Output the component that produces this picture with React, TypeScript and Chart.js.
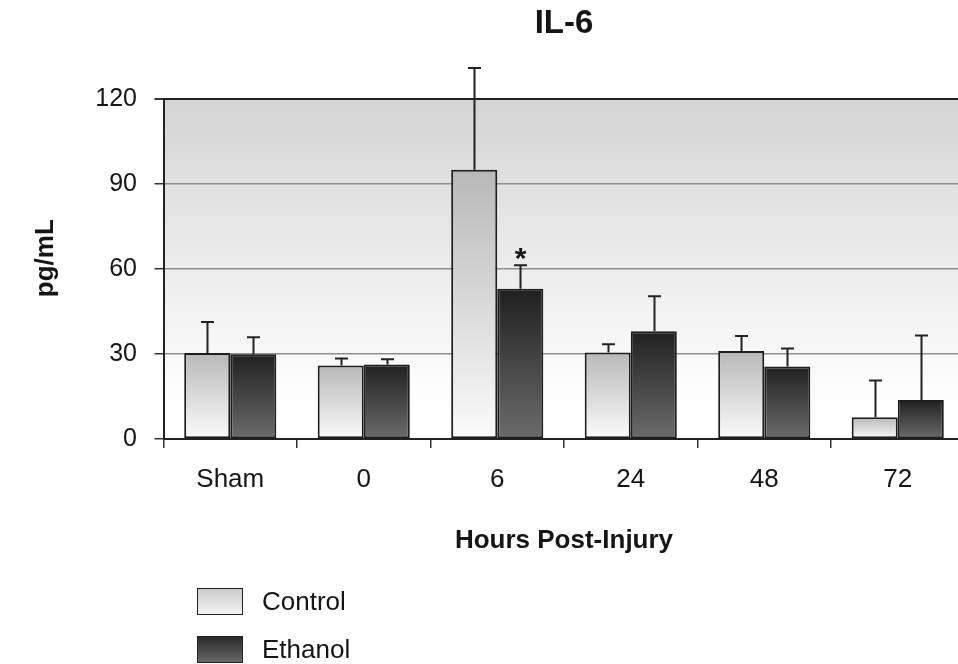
import React, { useEffect, useRef } from 'react';
import { Chart, registerables } from 'chart.js';

Chart.register(...registerables);

const categories = ['Sham', '0', '6', '24', '48', '72'];
const controlValues = [30.4, 26.0, 95.1, 30.6, 31.1, 7.7];
const controlErrors = [10.9, 2.4, 36.0, 2.9, 5.3, 13.0];
const ethanolValues = [29.9, 26.3, 53.1, 38.1, 25.6, 13.8];
const ethanolErrors = [6.0, 1.9, 8.3, 12.3, 6.4, 22.8];
const ethanolSignificant = [false, false, true, false, false, false];
const yTicks = [0, 30, 60, 90, 120];
const seriesNames = ['Control', 'Ethanol'];

const FONT = '"Liberation Sans", Arial, Helvetica, sans-serif';
const INK = '#151515';

function barGradient(top: string, bottom: string) {
  return (ctx: any) => {
    const chart = ctx.chart;
    const area = chart.chartArea;
    if (!area || ctx.type !== 'data') return bottom;
    const y = chart.scales.y;
    const v = ctx.raw as number;
    const yTop = y.getPixelForValue(v);
    const yBase = y.getPixelForValue(0);
    if (!isFinite(yTop) || !isFinite(yBase) || yBase - yTop < 1) return bottom;
    const g = chart.ctx.createLinearGradient(0, yTop, 0, yBase);
    g.addColorStop(0, top);
    g.addColorStop(1, bottom);
    return g;
  };
}

const plotBackground = {
  id: 'plotBackground',
  beforeDraw(chart: any) {
    const { ctx, chartArea: a } = chart;
    if (!a) return;
    const g = ctx.createLinearGradient(0, a.top, 0, a.bottom);
    g.addColorStop(0, '#d4d4d4');
    g.addColorStop(0.55, '#efefef');
    g.addColorStop(0.9, '#ffffff');
    g.addColorStop(1, '#ffffff');
    ctx.save();
    ctx.fillStyle = g;
    ctx.fillRect(a.left, a.top, a.right - a.left, a.bottom - a.top);
    ctx.restore();
  },
};

const errorBars = {
  id: 'errorBars',
  afterDatasetsDraw(chart: any) {
    const { ctx } = chart;
    const y = chart.scales.y;
    const errs = [controlErrors, ethanolErrors];
    const sig = [null, ethanolSignificant];
    ctx.save();
    ctx.strokeStyle = '#222';
    ctx.lineWidth = 2;
    chart.data.datasets.forEach((ds: any, i: number) => {
      const meta = chart.getDatasetMeta(i);
      meta.data.forEach((bar: any, j: number) => {
        const v = ds.data[j];
        const top = y.getPixelForValue(v + errs[i][j]);
        const x = Math.round(bar.x) + 0.5;
        ctx.beginPath();
        ctx.moveTo(x, bar.y);
        ctx.lineTo(x, top);
        ctx.moveTo(x - 6.5, top);
        ctx.lineTo(x + 6.5, top);
        ctx.stroke();
        const s = sig[i];
        if (s && s[j]) {
          ctx.fillStyle = INK;
          ctx.font = `bold 30px ${FONT}`;
          ctx.textAlign = 'center';
          ctx.textBaseline = 'middle';
          ctx.fillText('*', x, top - 5);
        }
      });
    });
    ctx.restore();
  },
};

const yAxisTitle = {
  id: 'yAxisTitle',
  afterDraw(chart: any) {
    const { ctx, chartArea: a } = chart;
    if (!a) return;
    ctx.save();
    ctx.translate(a.left - 117.5, (a.top + a.bottom) / 2 - 11);
    ctx.rotate(-Math.PI / 2);
    ctx.fillStyle = INK;
    ctx.font = `bold 26px ${FONT}`;
    ctx.textAlign = 'center';
    ctx.textBaseline = 'middle';
    ctx.fillText('pg/mL', 0, 0);
    ctx.restore();
  },
};

function LegendItem({ label, top, grad }: { label: string; top: number; grad: string }) {
  return (
    <>
      <div
        style={{
          position: 'absolute',
          left: 197,
          top,
          width: 46,
          height: 27,
          boxSizing: 'border-box',
          border: '1.5px solid #222',
          background: grad,
        }}
      />
      <div
        style={{
          position: 'absolute',
          left: 262,
          top: top - 3,
          height: 33,
          lineHeight: '33px',
          fontFamily: FONT,
          fontSize: 26,
          color: INK,
          whiteSpace: 'nowrap',
        }}
      >
        {label}
      </div>
    </>
  );
}

export default function App() {
  const canvasRef = useRef<HTMLCanvasElement | null>(null);

  useEffect(() => {
    const canvas = canvasRef.current;
    if (!canvas) return;
    Chart.defaults.font.family = FONT;
    Chart.defaults.color = INK;
    const chart = new Chart(canvas, {
      type: 'bar',
      data: {
        labels: categories,
        datasets: [
          {
            label: seriesNames[0],
            data: controlValues,
            backgroundColor: barGradient('#b8b8b8', '#fbfbfb'),
            borderColor: '#1e1e1e',
            borderWidth: 2,
            borderSkipped: false,
          },
          {
            label: seriesNames[1],
            data: ethanolValues,
            backgroundColor: barGradient('#202020', '#6c6c6c'),
            borderColor: '#1e1e1e',
            borderWidth: 2,
            borderSkipped: false,
          },
        ],
      },
      options: {
        animation: false,
        responsive: false,
        devicePixelRatio: 1,
        categoryPercentage: 0.69,
        barPercentage: 1,
        layout: { padding: { top: 0, left: 0, right: 3.5, bottom: 107.4 } },
        plugins: {
          legend: { display: false },
          tooltip: { enabled: false },
          title: {
            display: true,
            text: 'IL-6',
            fullSize: false,
            align: 'center',
            color: INK,
            font: { size: 33, weight: 'bold', family: FONT },
            padding: { top: 4, bottom: 55.7 },
          },
        },
        scales: {
          x: {
            afterFit: (s: any) => {
              s.height = 117.6;
            },
            grid: {
              drawOnChartArea: false,
              drawTicks: true,
              tickLength: 9,
              color: '#333',
              lineWidth: 1.5,
              offset: true,
            },
            border: { color: '#222', width: 2 },
            ticks: { font: { size: 26, family: FONT }, color: INK, padding: 16.5, maxRotation: 0 },
            title: {
              display: true,
              text: 'Hours Post-Injury',
              color: INK,
              font: { size: 26, weight: 'bold', family: FONT },
              padding: 0,
            },
          },
          y: {
            min: 0,
            max: 120,
            afterFit: (s: any) => {
              s.width = 163.5;
            },
            afterBuildTicks: (s: any) => {
              s.ticks = yTicks.map((v) => ({ value: v }));
            },
            grid: {
              color: (c: any) => (c.tick && c.tick.value === 120 ? '#222' : '#8e8e8e'),
              lineWidth: (c: any) => (c.tick && c.tick.value === 120 ? 2 : 1.5),
              tickColor: '#333',
              tickLength: 9,
              drawTicks: true,
            },
            border: { color: '#222', width: 2 },
            ticks: { font: { size: 25, family: FONT }, color: INK, padding: 17.5 },
          },
        },
      },
      plugins: [plotBackground, errorBars, yAxisTitle],
    } as any);
    return () => chart.destroy();
  }, []);

  return (
    <div
      style={{
        position: 'absolute',
        left: 0,
        top: 0,
        width: 958,
        height: 664,
        overflow: 'hidden',
        background: '#fff',
      }}
    >
      <canvas
        ref={canvasRef}
        width={968}
        height={664}
        style={{ position: 'absolute', left: 0, top: 0, width: 968, height: 664 }}
      />
      <LegendItem label={seriesNames[0]} top={588} grad="linear-gradient(#c9c9c9, #f4f4f4)" />
      <LegendItem label={seriesNames[1]} top={636} grad="linear-gradient(#2a2a2a, #686868)" />
    </div>
  );
}
